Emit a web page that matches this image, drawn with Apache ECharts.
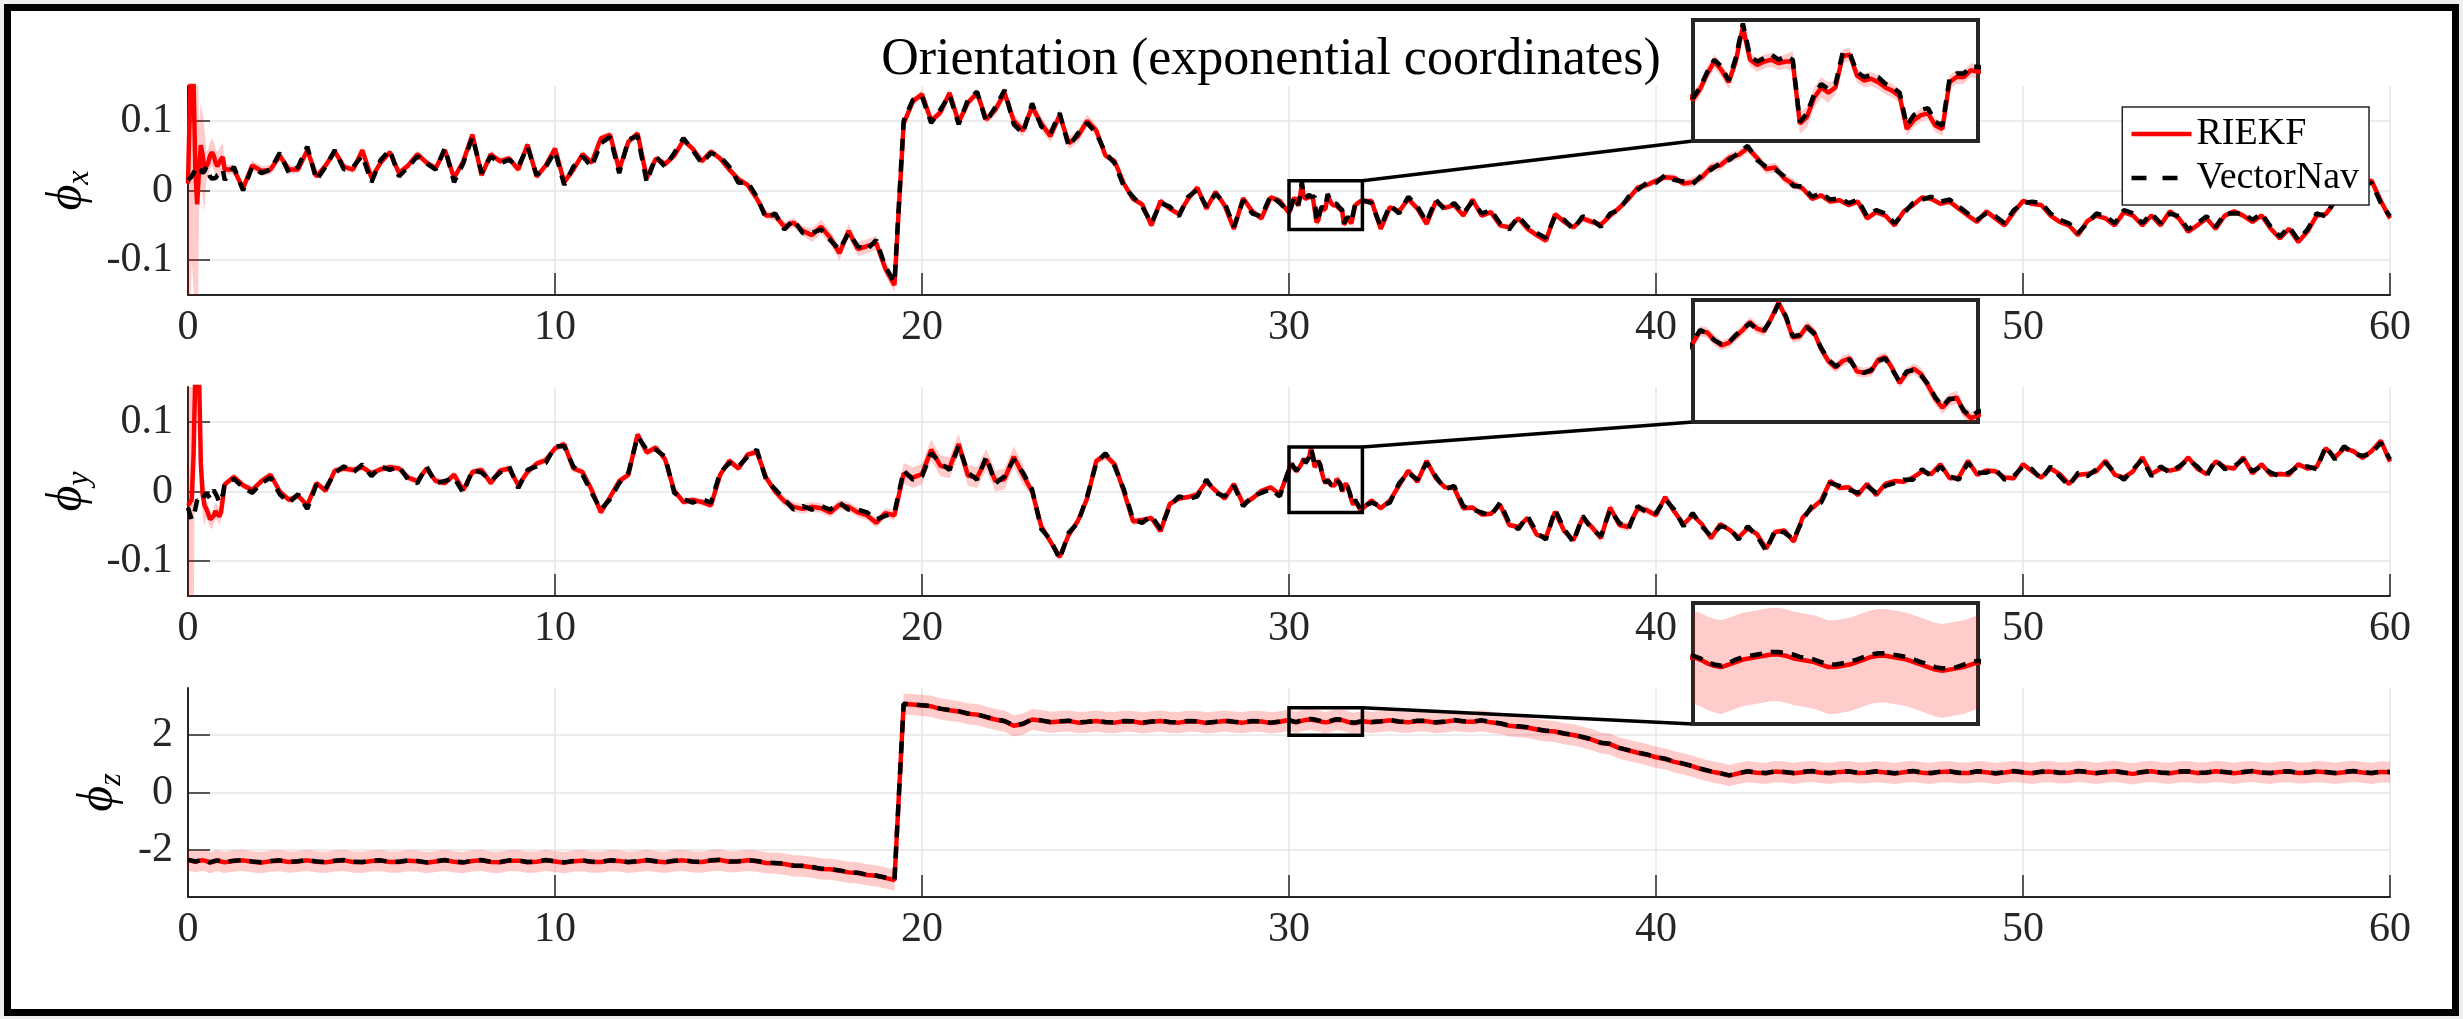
<!DOCTYPE html>
<html>
<head>
<meta charset="utf-8">
<title>Orientation (exponential coordinates)</title>
<script src="https://cdn.jsdelivr.net/npm/echarts@6/dist/echarts.min.js"></script>
<style>
  html, body { margin: 0; padding: 0; background: #eeeeee; }
  #frame { position: absolute; left: 4px; top: 4px; width: 2455px; height: 1012px;
           box-sizing: border-box; border: 7px solid #000; background: #fff; }
  #chart { position: absolute; left: 0; top: 0; width: 2463px; height: 1019px; }
</style>
</head>
<body>
<div id="frame"></div>
<div id="chart"></div>
<script>
  // time grid: finer sampling at the start and inside the zoomed window
  function seg(t0, t1, dt) {
    var out = [];
    for (var x = t0; x <= t1 + 1e-9; x += dt) out.push(Math.round(x * 100) / 100);
    return out;
  }
  var t = [].concat(seg(0, 0.95, 0.05), seg(1, 29.75, 0.25), seg(30, 31.95, 0.05), seg(32, 60, 0.25));

  var xTicks = [0, 10, 20, 30, 40, 50, 60];
  var yTicksXY = [-0.1, 0, 0.1];
  var yTicksZ = [-2, 0, 2];

  // ---------- phi_x ----------
  var phiX_vn = [
    0.015,0.017,0.020,0.025,0.030,0.035,0.037,0.030,0.025,0.028,0.034,0.030,0.020,0.017,0.015,0.018,0.022,0.024,0.025,0.030,
    0.015, 0.034, 0.000, 0.034,
    0.025, 0.030, 0.054, 0.025,
    0.034, 0.063, 0.015, 0.034,
    0.058, 0.030, 0.034, 0.050,
    0.012, 0.044, 0.058, 0.020,
    0.034, 0.049, 0.039, 0.030,
    0.061, 0.012, 0.039, 0.077,
    0.025, 0.049, 0.039, 0.044,
    0.034, 0.063, 0.022, 0.034,
    0.056, 0.008, 0.034, 0.049,
    0.034, 0.068, 0.077, 0.025,
    0.073, 0.078, 0.012, 0.049,
    0.034, 0.054, 0.075, 0.058,
    0.039, 0.054, 0.049, 0.034,
    0.011, 0.012, -0.009, -0.040,
    -0.033, -0.056, -0.042, -0.061,
    -0.061, -0.056, -0.071, -0.085,
    -0.061, -0.080, -0.085, -0.071,
    -0.109, -0.132, 0.100, 0.130,
    0.135, 0.097, 0.116, 0.137,
    0.095, 0.130, 0.142, 0.098,
    0.120, 0.144, 0.095, 0.082,
    0.125, 0.092, 0.082, 0.111,
    0.063, 0.082, 0.097, 0.082,
    0.054, 0.039, 0.006, -0.009,
    -0.023, -0.047, -0.018, -0.023,
    -0.037, -0.009, 0.001, -0.023,
    -0.005, -0.018, -0.052, -0.014,
    -0.033, -0.037, -0.007, -0.018,
    -0.031,-0.025,-0.016,-0.009,-0.013,-0.021,-0.008,0.012,-0.007,-0.010,
    -0.008,-0.006,-0.009,-0.007,-0.009,-0.045,-0.040,-0.029,-0.023,-0.026,
    -0.023,-0.005,-0.005,-0.016,-0.019,-0.018,-0.019,-0.023,-0.025,-0.028,
    -0.047,-0.041,-0.038,-0.037,-0.045,-0.047,-0.020,-0.017,-0.017,-0.013,
    -0.013, -0.018, -0.052, -0.021,
    -0.033, -0.009, -0.023, -0.045,
    -0.013, -0.028, -0.018, -0.033,
    -0.016, -0.033, -0.028, -0.047,
    -0.056, -0.037, -0.052, -0.061,
    -0.068, -0.037, -0.042, -0.056,
    -0.037, -0.042, -0.052, -0.033,
    -0.028, -0.009, 0.001, 0.011,
    0.011, 0.022, 0.015, 0.013,
    0.009, 0.022, 0.030, 0.039,
    0.044, 0.054, 0.064, 0.044,
    0.034, 0.030, 0.020, 0.006,
    0.006, -0.009, -0.004, -0.013,
    -0.011, -0.018, -0.013, -0.037,
    -0.028, -0.033, -0.047, -0.033,
    -0.018, -0.013, -0.009, -0.016,
    -0.013, -0.023, -0.033, -0.042,
    -0.033, -0.037, -0.047, -0.028,
    -0.018, -0.016, -0.018, -0.033,
    -0.042, -0.047, -0.061, -0.047,
    -0.033, -0.037, -0.047, -0.028,
    -0.033, -0.047, -0.033, -0.047,
    -0.033, -0.037, -0.056, -0.047,
    -0.037, -0.052, -0.033, -0.033,
    -0.033, -0.042, -0.033, -0.052,
    -0.066, -0.052, -0.071, -0.056,
    -0.033, -0.037, -0.013, 0.001,
    0.006, 0.008, 0.011, -0.018,
    -0.037
  ];
  var phiX_riekf = [
    0.010,0.120,0.200,0.160,0.030,-0.020,0.030,0.065,0.050,0.030,0.035,0.040,0.050,0.055,0.050,0.040,0.035,0.040,0.045,0.048,
    0.030, 0.030, 0.003, 0.036,
    0.028, 0.030, 0.050, 0.030,
    0.030, 0.058, 0.020, 0.036,
    0.056, 0.034, 0.030, 0.058,
    0.018, 0.040, 0.055, 0.025,
    0.036, 0.052, 0.040, 0.032,
    0.058, 0.018, 0.042, 0.080,
    0.022, 0.052, 0.042, 0.046,
    0.030, 0.066, 0.020, 0.036,
    0.060, 0.012, 0.030, 0.052,
    0.040, 0.075, 0.080, 0.030,
    0.070, 0.082, 0.018, 0.046,
    0.038, 0.050, 0.072, 0.060,
    0.042, 0.056, 0.046, 0.030,
    0.016, 0.008, -0.012, -0.036,
    -0.036, -0.052, -0.046, -0.058,
    -0.064, -0.052, -0.068, -0.090,
    -0.058, -0.084, -0.080, -0.075,
    -0.112, -0.136, 0.096, 0.128,
    0.138, 0.100, 0.112, 0.140,
    0.098, 0.126, 0.140, 0.102,
    0.116, 0.140, 0.100, 0.086,
    0.120, 0.096, 0.078, 0.108,
    0.068, 0.078, 0.100, 0.086,
    0.050, 0.042, 0.010, -0.012,
    -0.020, -0.050, -0.015, -0.026,
    -0.034, -0.012, 0.004, -0.026,
    -0.002, -0.022, -0.055, -0.011,
    -0.030, -0.040, -0.010, -0.015,
    -0.032,-0.026,-0.017,-0.010,-0.015,-0.022,-0.010,0.010,-0.009,-0.012,
    -0.010,-0.009,-0.011,-0.010,-0.010,-0.046,-0.042,-0.031,-0.025,-0.028,
    -0.025,-0.007,-0.006,-0.018,-0.021,-0.020,-0.022,-0.025,-0.027,-0.030,
    -0.049,-0.044,-0.041,-0.040,-0.047,-0.049,-0.022,-0.019,-0.019,-0.015,
    -0.016, -0.015, -0.055, -0.024,
    -0.030, -0.012, -0.026, -0.048,
    -0.016, -0.025, -0.021, -0.036,
    -0.013, -0.036, -0.031, -0.050,
    -0.053, -0.040, -0.055, -0.064,
    -0.072, -0.034, -0.045, -0.053,
    -0.040, -0.045, -0.049, -0.036,
    -0.025, -0.012, 0.004, 0.008,
    0.014, 0.019, 0.018, 0.010,
    0.012, 0.019, 0.033, 0.036,
    0.047, 0.051, 0.061, 0.047,
    0.031, 0.033, 0.017, 0.009,
    0.003, -0.012, -0.007, -0.016,
    -0.014, -0.021, -0.016, -0.040,
    -0.031, -0.036, -0.050, -0.030,
    -0.021, -0.010, -0.012, -0.019,
    -0.016, -0.026, -0.036, -0.045,
    -0.030, -0.040, -0.050, -0.031,
    -0.015, -0.019, -0.021, -0.036,
    -0.045, -0.050, -0.064, -0.044,
    -0.036, -0.040, -0.050, -0.031,
    -0.036, -0.050, -0.036, -0.050,
    -0.030, -0.040, -0.059, -0.050,
    -0.040, -0.055, -0.036, -0.030,
    -0.036, -0.045, -0.036, -0.055,
    -0.069, -0.055, -0.074, -0.059,
    -0.036, -0.034, -0.016, 0.004,
    0.009, 0.011, 0.014, -0.015,
    -0.040
  ];
  // [start time, 3-sigma half width]
  var sigmaX = [[0, 0.30], [0.3, 0.06], [0.5, 0.02], [1, 0.007], [3, 0.005], [16, 0.007], [17, 0.010],
                [19.5, 0.006], [22, 0.009], [25, 0.005], [30, 0.004], [30.7, 0.006], [31, 0.004],
                [36, 0.005], [41, 0.007], [44, 0.004]];

  // ---------- phi_y ----------
  var phiY_vn = [
    -0.023,-0.032,-0.040,-0.036,-0.025,-0.012,-0.010,-0.015,-0.012,-0.006,-0.002,-0.006,-0.010,-0.004,0.002,0.003,-0.008,-0.016,-0.012,-0.004,
    0.012, 0.018, 0.006, -0.002,
    0.012, 0.020, -0.004, -0.016,
    -0.004, -0.025, 0.010, 0.004,
    0.027, 0.036, 0.027, 0.039,
    0.022, 0.036, 0.031, 0.036,
    0.017, 0.012, 0.036, 0.012,
    0.015, 0.020, -0.002, 0.031,
    0.027, 0.015, 0.027, 0.036,
    0.005, 0.031, 0.036, 0.041,
    0.065, 0.065, 0.036, 0.024,
    -0.002, -0.026, -0.011, 0.012,
    0.027, 0.079, 0.060, 0.060,
    0.050, -0.002, -0.011, -0.016,
    -0.011, -0.016, 0.027, 0.041,
    0.036, 0.050, 0.060, 0.017,
    0.003, -0.011, -0.026, -0.021,
    -0.026, -0.021, -0.026, -0.016,
    -0.026, -0.026, -0.030, -0.040,
    -0.035, -0.030, 0.030, 0.017,
    0.022, 0.055, 0.041, 0.031,
    0.065, 0.027, 0.017, 0.050,
    0.012, 0.022, 0.046, 0.027,
    0.003, -0.054, -0.069, -0.097,
    -0.059, -0.045, -0.007, 0.041,
    0.055, 0.036, 0.003, -0.040,
    -0.045, -0.035, -0.054, -0.021,
    -0.007, -0.011, -0.007, 0.017,
    -0.002, -0.007, 0.008, -0.021,
    -0.007, -0.002, 0.003, -0.007,
    0.032,0.041,0.038,0.033,0.030,0.031,0.037,0.042,0.046,0.041,
    0.041,0.049,0.061,0.052,0.036,0.037,0.043,0.038,0.027,0.018,
    0.013,0.016,0.018,0.010,0.008,0.010,0.017,0.019,0.010,0.001,
    0.009,0.010,0.006,-0.001,-0.011,-0.018,-0.012,-0.012,-0.021,-0.026,
    -0.022, -0.016, -0.021, -0.016,
    0.012, 0.027, 0.017, 0.041,
    0.022, 0.003, 0.008, -0.021,
    -0.026, -0.030, -0.035, -0.016,
    -0.045, -0.054, -0.035, -0.059,
    -0.069, -0.026, -0.054, -0.073,
    -0.035, -0.054, -0.064, -0.026,
    -0.045, -0.054, -0.021, -0.030,
    -0.031, -0.011, -0.026, -0.050,
    -0.031, -0.050, -0.064, -0.050,
    -0.052, -0.069, -0.050, -0.064,
    -0.085, -0.055, -0.059, -0.069,
    -0.040, -0.021, -0.016, 0.012,
    0.008, 0.003, -0.002, 0.008,
    -0.002, 0.008, 0.012, 0.017,
    0.017, 0.032, 0.022, 0.036,
    0.022, 0.017, 0.041, 0.027,
    0.027, 0.032, 0.017, 0.022,
    0.036, 0.032, 0.017, 0.036,
    0.022, 0.008, 0.027, 0.022,
    0.032, 0.041, 0.027, 0.017,
    0.032, 0.046, 0.022, 0.036,
    0.027, 0.036, 0.046, 0.036,
    0.022, 0.046, 0.032, 0.036,
    0.046, 0.029, 0.036, 0.027,
    0.022, 0.027, 0.036, 0.036,
    0.032, 0.065, 0.046, 0.065,
    0.055, 0.051, 0.055, 0.070,
    0.046
  ];
  var phiY_riekf = [
    -0.020,-0.020,-0.012,0.050,0.170,0.200,0.170,0.040,-0.005,-0.020,-0.025,-0.032,-0.040,-0.042,-0.035,-0.028,-0.030,-0.036,-0.030,-0.010,
    0.010, 0.021, 0.009, 0.002,
    0.015, 0.024, 0.000, -0.012,
    -0.006, -0.020, 0.012, 0.001,
    0.030, 0.033, 0.031, 0.035,
    0.026, 0.032, 0.035, 0.033,
    0.020, 0.015, 0.033, 0.015,
    0.012, 0.024, 0.002, 0.028,
    0.031, 0.012, 0.030, 0.033,
    0.009, 0.028, 0.040, 0.045,
    0.062, 0.068, 0.033, 0.028,
    0.002, -0.030, -0.008, 0.015,
    0.024, 0.082, 0.056, 0.063,
    0.046, 0.001, -0.015, -0.012,
    -0.015, -0.020, 0.024, 0.044,
    0.033, 0.053, 0.057, 0.020,
    0.000, -0.014, -0.022, -0.025,
    -0.022, -0.024, -0.030, -0.019,
    -0.022, -0.030, -0.034, -0.045,
    -0.031, -0.034, 0.026, 0.020,
    0.025, 0.060, 0.037, 0.034,
    0.068, 0.023, 0.020, 0.046,
    0.015, 0.018, 0.050, 0.024,
    0.000, -0.050, -0.072, -0.094,
    -0.062, -0.042, -0.010, 0.044,
    0.052, 0.039, 0.000, -0.043,
    -0.041, -0.038, -0.057, -0.018,
    -0.010, -0.008, -0.004, 0.014,
    0.001, -0.010, 0.011, -0.018,
    -0.010, 0.001, 0.006, -0.004,
    0.031,0.040,0.039,0.033,0.029,0.031,0.036,0.041,0.047,0.042,
    0.040,0.050,0.062,0.051,0.035,0.036,0.044,0.039,0.026,0.017,
    0.012,0.017,0.019,0.009,0.008,0.009,0.018,0.020,0.011,0.000,
    0.008,0.011,0.007,-0.002,-0.012,-0.019,-0.013,-0.011,-0.022,-0.027,
    -0.025, -0.013, -0.024, -0.013,
    0.009, 0.030, 0.014, 0.044,
    0.019, 0.006, 0.005, -0.024,
    -0.023, -0.033, -0.032, -0.019,
    -0.048, -0.051, -0.038, -0.062,
    -0.066, -0.029, -0.057, -0.070,
    -0.038, -0.051, -0.067, -0.023,
    -0.048, -0.051, -0.024, -0.027,
    -0.034, -0.008, -0.029, -0.047,
    -0.034, -0.047, -0.067, -0.047,
    -0.055, -0.066, -0.053, -0.061,
    -0.082, -0.058, -0.056, -0.072,
    -0.037, -0.024, -0.013, 0.015,
    0.005, 0.006, -0.005, 0.011,
    -0.005, 0.011, 0.015, 0.014,
    0.020, 0.029, 0.025, 0.039,
    0.019, 0.020, 0.044, 0.024,
    0.030, 0.029, 0.020, 0.019,
    0.039, 0.029, 0.020, 0.033,
    0.025, 0.011, 0.024, 0.025,
    0.029, 0.044, 0.024, 0.020,
    0.029, 0.049, 0.025, 0.033,
    0.030, 0.033, 0.049, 0.033,
    0.025, 0.043, 0.035, 0.033,
    0.049, 0.026, 0.039, 0.024,
    0.025, 0.024, 0.039, 0.033,
    0.035, 0.062, 0.049, 0.062,
    0.058, 0.048, 0.058, 0.073,
    0.043
  ];
  var sigmaY = [[0, 0.30], [0.2, 0.03], [0.5, 0.012], [1, 0.005], [16, 0.007], [19.5, 0.015],
                [23, 0.006], [26, 0.004], [31.6, 0.005], [32, 0.004], [38, 0.006], [40, 0.004]];

  // ---------- phi_z ----------
  var phiZ_vn = [
    -2.35,-2.36,-2.38,-2.40,-2.41,-2.40,-2.38,-2.36,-2.35,-2.36,-2.39,-2.42,-2.44,-2.43,-2.40,-2.38,-2.37,-2.38,-2.40,-2.42,
    -2.43, -2.38, -2.36, -2.41,
    -2.44, -2.39, -2.37, -2.42,
    -2.40, -2.36, -2.41, -2.43,
    -2.38, -2.36, -2.42, -2.43,
    -2.38, -2.37, -2.42, -2.42,
    -2.37, -2.39, -2.44, -2.40,
    -2.36, -2.41, -2.44, -2.38,
    -2.36, -2.42, -2.43, -2.37,
    -2.37, -2.43, -2.41, -2.36,
    -2.40, -2.44, -2.39, -2.37,
    -2.42, -2.42, -2.37, -2.38,
    -2.43, -2.40, -2.36, -2.40,
    -2.43, -2.38, -2.36, -2.41,
    -2.42, -2.37, -2.35, -2.41,
    -2.40, -2.36, -2.39, -2.45,
    -2.46, -2.49, -2.55, -2.56,
    -2.60, -2.66, -2.67, -2.72,
    -2.78, -2.80, -2.87, -2.90,
    -2.97, -3.05, 3.10, 3.08,
    3.05, 3.02, 2.93, 2.88,
    2.84, 2.76, 2.73, 2.64,
    2.56, 2.50, 2.34, 2.40,
    2.56, 2.52, 2.46, 2.49,
    2.51, 2.45, 2.47, 2.51,
    2.46, 2.45, 2.50, 2.49,
    2.44, 2.48, 2.51, 2.46,
    2.45, 2.50, 2.49, 2.44,
    2.47, 2.51, 2.47, 2.45,
    2.50, 2.49, 2.44, 2.48,
    2.54,2.52,2.49,2.47,2.46,2.48,2.51,2.53,2.54,2.55,
    2.56,2.57,2.57,2.56,2.55,2.53,2.52,2.51,2.49,2.47,
    2.47,2.48,2.49,2.51,2.53,2.55,2.56,2.56,2.55,2.54,
    2.53,2.51,2.49,2.47,2.45,2.44,2.44,2.45,2.47,2.49,
    2.50, 2.46, 2.49, 2.53,
    2.48, 2.46, 2.51, 2.50,
    2.45, 2.48, 2.53, 2.49,
    2.48, 2.52, 2.46, 2.42,
    2.34, 2.31, 2.28, 2.21,
    2.16, 2.14, 2.06, 2.02,
    1.94, 1.86, 1.74, 1.70,
    1.56, 1.48, 1.40, 1.33,
    1.24, 1.18, 1.08, 1.01,
    0.92, 0.82, 0.74, 0.68,
    0.60, 0.68, 0.74, 0.70,
    0.68, 0.74, 0.72, 0.68,
    0.72, 0.75, 0.70, 0.68,
    0.73, 0.74, 0.69, 0.70,
    0.74, 0.71, 0.67, 0.72,
    0.75, 0.70, 0.68, 0.73,
    0.74, 0.69, 0.69, 0.74,
    0.72, 0.67, 0.71, 0.75,
    0.71, 0.68, 0.73, 0.74,
    0.69, 0.70, 0.75, 0.72,
    0.68, 0.72, 0.75, 0.70,
    0.66, 0.72, 0.75, 0.70,
    0.68, 0.73, 0.74, 0.69,
    0.70, 0.75, 0.72, 0.68,
    0.72, 0.75, 0.70, 0.68,
    0.73, 0.74, 0.69, 0.70,
    0.74, 0.72, 0.68, 0.72,
    0.75, 0.71, 0.68, 0.73,
    0.72
  ];
  var phiZ_riekf = [
    -2.36,-2.37,-2.39,-2.41,-2.42,-2.41,-2.39,-2.37,-2.36,-2.37,-2.40,-2.43,-2.45,-2.44,-2.41,-2.39,-2.38,-2.39,-2.41,-2.43,
    -2.44, -2.39, -2.37, -2.42,
    -2.45, -2.40, -2.38, -2.43,
    -2.41, -2.37, -2.42, -2.44,
    -2.39, -2.37, -2.43, -2.44,
    -2.39, -2.38, -2.43, -2.43,
    -2.38, -2.40, -2.45, -2.41,
    -2.37, -2.42, -2.45, -2.39,
    -2.37, -2.43, -2.44, -2.38,
    -2.38, -2.44, -2.42, -2.37,
    -2.41, -2.45, -2.40, -2.38,
    -2.43, -2.43, -2.38, -2.39,
    -2.44, -2.41, -2.37, -2.41,
    -2.44, -2.39, -2.37, -2.42,
    -2.43, -2.38, -2.36, -2.42,
    -2.41, -2.37, -2.40, -2.46,
    -2.47, -2.50, -2.56, -2.57,
    -2.61, -2.67, -2.68, -2.73,
    -2.79, -2.81, -2.88, -2.91,
    -2.98, -3.06, 3.09, 3.07,
    3.04, 3.01, 2.92, 2.87,
    2.83, 2.75, 2.72, 2.63,
    2.55, 2.49, 2.33, 2.39,
    2.55, 2.51, 2.45, 2.48,
    2.50, 2.44, 2.46, 2.50,
    2.45, 2.44, 2.49, 2.48,
    2.43, 2.47, 2.50, 2.45,
    2.44, 2.49, 2.48, 2.43,
    2.46, 2.50, 2.46, 2.44,
    2.49, 2.48, 2.43, 2.47,
    2.53,2.51,2.48,2.46,2.45,2.47,2.49,2.51,2.52,2.53,
    2.54,2.55,2.55,2.54,2.52,2.51,2.50,2.49,2.47,2.45,
    2.45,2.46,2.47,2.49,2.51,2.53,2.54,2.54,2.53,2.52,
    2.51,2.49,2.47,2.45,2.43,2.42,2.43,2.44,2.45,2.47,
    2.49, 2.45, 2.48, 2.52,
    2.47, 2.45, 2.50, 2.49,
    2.44, 2.47, 2.52, 2.48,
    2.47, 2.51, 2.45, 2.41,
    2.33, 2.30, 2.27, 2.20,
    2.15, 2.13, 2.05, 2.01,
    1.93, 1.85, 1.73, 1.69,
    1.55, 1.47, 1.39, 1.32,
    1.23, 1.17, 1.07, 1.00,
    0.91, 0.81, 0.73, 0.67,
    0.59, 0.67, 0.73, 0.69,
    0.67, 0.73, 0.71, 0.67,
    0.71, 0.74, 0.69, 0.67,
    0.72, 0.73, 0.68, 0.69,
    0.73, 0.70, 0.66, 0.71,
    0.74, 0.69, 0.67, 0.72,
    0.73, 0.68, 0.68, 0.73,
    0.71, 0.66, 0.70, 0.74,
    0.70, 0.67, 0.72, 0.73,
    0.68, 0.69, 0.74, 0.71,
    0.67, 0.71, 0.74, 0.69,
    0.65, 0.71, 0.74, 0.69,
    0.67, 0.72, 0.73, 0.68,
    0.69, 0.74, 0.71, 0.67,
    0.71, 0.74, 0.69, 0.67,
    0.72, 0.73, 0.68, 0.69,
    0.73, 0.71, 0.67, 0.71,
    0.74, 0.70, 0.67, 0.72,
    0.71
  ];
  var sigmaZ = [[0, 0.37]];

  // zoom windows: time range and y range of each source box
  var zoomT = [30, 32];
  var zoomBoxX = [-0.056, 0.014];
  var zoomBoxY = [-0.030, 0.064];
  var zoomBoxZ = [2.0, 2.957];

  [['phiX_vn', phiX_vn], ['phiX_riekf', phiX_riekf], ['phiY_vn', phiY_vn], ['phiY_riekf', phiY_riekf],
   ['phiZ_vn', phiZ_vn], ['phiZ_riekf', phiZ_riekf]].forEach(function (a) {
    if (a[1].length !== t.length) throw new Error(a[0] + ' has ' + a[1].length + ' values, time has ' + t.length);
  });

  var FONT = 'Liberation Serif, DejaVu Serif, serif';
  var AXIS = '#262626';
  var LW = 4.5;

  var mainGrids = [
    { left: 188, top: 86, width: 2202, height: 209 },
    { left: 188, top: 387, width: 2202, height: 209 },
    { left: 188, top: 688, width: 2202, height: 209 }
  ];
  var insetGrids = [
    { left: 1693, top: 20, width: 285, height: 121 },
    { left: 1693, top: 300, width: 285, height: 122 },
    { left: 1693, top: 603, width: 285, height: 121 }
  ];

  var panels = [
    { est: phiX_riekf, ref: phiX_vn, sigma: sigmaX, yr: [-0.15, 0.15], ticks: yTicksXY, sub: 'x', gap: 84, box: zoomBoxX },
    { est: phiY_riekf, ref: phiY_vn, sigma: sigmaY, yr: [-0.15, 0.15], ticks: yTicksXY, sub: 'y', gap: 84, box: zoomBoxY },
    { est: phiZ_riekf, ref: phiZ_vn, sigma: sigmaZ, yr: [-3.65, 3.65], ticks: yTicksZ, sub: 'z', gap: 54, box: zoomBoxZ }
  ];

  function sigAt(tab, tt) {
    var s = tab[0][1];
    for (var i = 0; i < tab.length; i++) if (tt >= tab[i][0]) s = tab[i][1];
    return s;
  }
  function pts(vals) { return t.map(function (x, i) { return [x, vals[i]]; }); }

  function bandRender(p) {
    return function (params, api) {
      if (params.dataIndex !== 0) return null;
      var upper = [], lower = [];
      for (var i = 0; i < t.length; i++) {
        var s = sigAt(p.sigma, t[i]);
        upper.push(api.coord([t[i], p.est[i] + s]));
        lower.push(api.coord([t[i], p.est[i] - s]));
      }
      var cs = params.coordSys;
      return {
        type: 'polygon',
        shape: { points: upper.concat(lower.reverse()) },
        style: { fill: 'rgba(255,0,0,0.2)', stroke: null },
        clipPath: { type: 'rect', shape: { x: cs.x, y: cs.y, width: cs.width, height: cs.height } }
      };
    };
  }

  function boxRender(k) {
    return function (params, api) {
      var b = panels[k].box, g = insetGrids[k];
      var p0 = api.coord([zoomT[0], b[1]]);
      var p1 = api.coord([zoomT[1], b[0]]);
      return {
        type: 'group',
        children: [
          { type: 'rect', shape: { x: p0[0], y: p0[1], width: p1[0] - p0[0], height: p1[1] - p0[1] },
            style: { fill: null, stroke: '#000', lineWidth: 3.5 } },
          { type: 'line', shape: { x1: p1[0], y1: p0[1], x2: g.left, y2: g.top + g.height },
            style: { stroke: '#000', lineWidth: 3.5 } }
        ]
      };
    };
  }

  var grid = [], xAxis = [], yAxis = [], series = [];

  panels.forEach(function (p, k) {
    grid.push(mainGrids[k]);
    xAxis.push({
      gridIndex: k, type: 'value', min: 0, max: 60, interval: 10,
      axisLine: { onZero: false, lineStyle: { color: AXIS, width: 2 } },
      axisTick: { inside: true, length: 22, lineStyle: { color: AXIS, width: 1.5 } },
      axisLabel: { fontFamily: FONT, fontSize: 42, color: AXIS, margin: 12,
                   customValues: xTicks },
      splitLine: { show: true, lineStyle: { color: '#e6e6e6', width: 1.5 } }
    });
    yAxis.push({
      gridIndex: k, type: 'value', min: p.yr[0], max: p.yr[1],
      axisLine: { show: true, onZero: false, lineStyle: { color: AXIS, width: 2 } },
      axisTick: { show: true, inside: true, length: 22, customValues: p.ticks, lineStyle: { color: AXIS, width: 1.5 } },
      axisLabel: { fontFamily: FONT, fontSize: 42, color: AXIS, margin: 15, customValues: p.ticks },
      splitLine: { show: true, lineStyle: { color: '#e6e6e6', width: 1.5 } },
      name: '{p|ϕ}{s|' + p.sub + '}',
      nameLocation: 'middle', nameRotate: 90, nameGap: p.gap,
      nameTextStyle: {
        color: '#000',
        rich: {
          p: { fontFamily: FONT, fontStyle: 'italic', fontSize: 50, lineHeight: 56, color: '#000' },
          s: { fontFamily: FONT, fontStyle: 'italic', fontSize: 32, lineHeight: 30, verticalAlign: 'bottom', color: '#000' }
        }
      }
    });
  });

  panels.forEach(function (p, k) {
    var gi = 3 + k;
    var g = insetGrids[k];
    grid.push({ left: g.left, top: g.top, width: g.width, height: g.height, show: true,
                backgroundColor: '#fff', borderColor: AXIS, borderWidth: 4, z: 10 });
    xAxis.push({ gridIndex: gi, type: 'value', min: zoomT[0], max: zoomT[1], show: false });
    yAxis.push({ gridIndex: gi, type: 'value', min: p.box[0], max: p.box[1], show: false });
  });

  for (var gi = 0; gi < 6; gi++) {
    var p = panels[gi % 3];
    var inset = gi >= 3;
    var zb = inset ? 12 : 2;
    series.push({
      type: 'custom', name: 'band', xAxisIndex: gi, yAxisIndex: gi,
      data: [[0, 0]], renderItem: bandRender(p), silent: true, animation: false, z: zb
    });
    series.push({
      type: 'line', name: 'RIEKF', xAxisIndex: gi, yAxisIndex: gi, data: pts(p.est),
      showSymbol: false, symbol: 'none', animation: false, z: zb + 1,
      lineStyle: { color: '#ff0000', width: LW }, itemStyle: { color: '#ff0000' }
    });
    series.push({
      type: 'line', name: 'VectorNav', xAxisIndex: gi, yAxisIndex: gi, data: pts(p.ref),
      showSymbol: false, symbol: 'none', animation: false, z: zb + 2,
      lineStyle: { color: '#000', width: LW, type: [12, 9] }, itemStyle: { color: '#000' }
    });
  }
  for (var k = 0; k < 3; k++) {
    series.push({
      type: 'custom', name: 'zoombox', xAxisIndex: k, yAxisIndex: k,
      data: [[0, 0]], renderItem: boxRender(k), silent: true, animation: false, z: 6
    });
  }

  var chart = echarts.init(document.getElementById('chart'), null, { renderer: 'canvas' });
  chart.setOption({
    animation: false,
    textStyle: { fontFamily: FONT },
    title: {
      text: 'Orientation (exponential coordinates)',
      left: 1266, top: 29, textAlign: 'center',
      textStyle: { fontFamily: FONT, fontSize: 52, fontWeight: 'normal', color: '#000' }
    },
    legend: {
      data: [
        { name: 'RIEKF', lineStyle: { width: 4.5 } },
        { name: 'VectorNav', lineStyle: { width: 4.5, type: [15, 16] } }
      ],
      orient: 'vertical', right: 94, top: 107,
      itemWidth: 60, itemHeight: 20, itemGap: 6,
      padding: [8, 10, 8, 7],
      itemStyle: { opacity: 0 },
      backgroundColor: '#fff', borderColor: AXIS, borderWidth: 1.5, borderRadius: 0,
      textStyle: { fontFamily: FONT, fontSize: 38, color: '#000', lineHeight: 36 },
      z: 20
    },
    grid: grid,
    xAxis: xAxis,
    yAxis: yAxis,
    series: series
  });
</script>
</body>
</html>
